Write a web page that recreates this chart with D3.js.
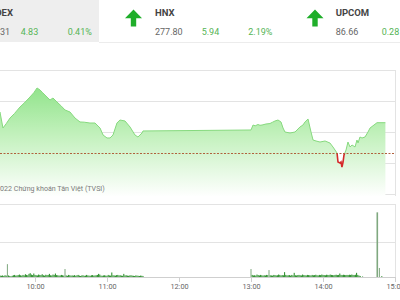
<!DOCTYPE html>
<html><head><meta charset="utf-8">
<script src="https://cdn.jsdelivr.net/npm/d3@7"></script>
<style>
html,body{margin:0;padding:0;background:#fff;overflow:hidden}
svg{display:block;font-family:Roboto,"Liberation Sans",Arial,sans-serif}
</style></head><body>
<svg id="c" width="400" height="300"></svg>
<script>
// ---------- data ----------
const indexNames = ["VNINDEX", "HNX", "UPCOM"];
const indexValues = ["1,178.31", "277.80", "86.66"];
const indexChanges = ["4.83", "5.94", "0.28"];
const indexPercents = ["0.41%", "2.19%", "0.28%"];

const refPrice = 271.86;
const priceTicks = [264, 270, 276, 282, 288];
// minutes since 09:00
const priceMinutes = [15,20,26,30.8,33.3,36,39.2,43,47.5,51,55.8,59,61.7,64.2,66,68.3,72.5,75,78.3,82,85,89.2,93.3,97.5,101,105.8,110,114.2,116.7,120,122.5,125,128.3,130.8,135,139.2,143.3,145.8,149.2,150,
  240,241.7,243.5,245.8,247.5,249.2,252.5,255.8,258,260,262.5,265,266.7,268.3,272.5,276.7,280.8,283.3,285,287.5,290,291.7,294.2,297.5,301.7,305.8,308.3,311.7,312.5,314.2,315,315.8,316.7,317.5,319.2,320.8,322.5,324.2,326.7,328.3,329.2,330.8,332.5,335,337.5,339.2,345,352];
const priceValues = [276.5,277.5,278.0,279.87,276.77,277.6,278.71,279.6,280.84,281.6,282.77,283.6,284.52,284.13,283.7,283.16,282.19,282.58,281.81,281.0,280.26,279.87,278.71,277.94,277.9,277.74,277.74,276.77,275.42,274.84,274.84,275.42,277.74,278.32,278.13,276.97,275.42,275.03,275.81,276.2,
  276.39,277.35,277.2,277.45,277.3,277.35,277.55,277.64,277.9,278.13,278.32,277.94,276.77,276.0,275.81,276.0,276.97,277.35,277.94,278.52,276.0,274.45,274.26,274.06,274.26,273.87,273.1,271.94,270.19,270.0,270.19,269.23,270.19,271.55,272.52,274.06,273.1,273.48,273.1,274.45,273.87,275.03,274.84,275.03,276.0,276.77,277.8,277.8];

// volume (thousand shares), one bar per minute
const morningStart = 31;   // 09:31
const morningVolume = [40,35,45,30,50,40,370,45,30,20,
  35,50,60,40,45,55,70,50,40,60,
  45,80,60,50,90,110,70,55,100,60,
  50,45,70,60,55,80,50,40,65,55,
  60,90,50,45,70,60,100,55,50,40,
  45,60,50,40,230,45,35,60,50,40,
  45,40,55,35,50,60,40,30,45,50,
  35,40,60,45,40,35,50,55,40,45,
  50,60,90,70,40,35,45,50,40,35,
  60,45,40,130,50,45,40,55,60,45,
  50,40,35,90,45,50,40,35,45,50,
  40,35,30,45,40,35,30,40,35,30];
const afternoonStart = 240; // 13:00
const afternoonVolume = [230,60,45,50,40,70,55,45,60,50,
  40,50,45,60,55,200,50,45,40,60,
  55,45,50,70,60,45,55,50,140,60,
  45,50,55,40,60,45,120,50,45,55,
  60,50,45,70,55,50,45,60,55,50,
  45,60,50,55,65,50,45,60,55,70,
  60,55,50,65,60,55,70,60,55,50,
  60,65,55,60,100,60,55,65,60,55,
  60,55,65,60,70,60,55,65,120,60,
  40,30];
const atcMinutes = [333, 345, 347, 349];
const atcVolume = [15, 1860, 260, 25];
const volumeTicks = [0, 1000, 2000];

const timeTicks = [60, 120, 180, 240, 300, 360];
const timeLabels = ["10:00", "11:00", "12:00", "13:00", "14:00", "15:00"];
const captionHidden = "©2";
const captionShown = "022 Chứng khoán Tân Việt (TVSI)";

// ---------- build ----------
const svg = d3.select("#c");
const W = 400;

// header
svg.append("rect").attr("x", 0).attr("y", 0).attr("width", 99).attr("height", 42).attr("fill", "#eeeeee");
svg.append("line").attr("x1", 99).attr("x2", W).attr("y1", 42.5).attr("y2", 42.5).attr("stroke", "#ececec");

const hdr = [
  {nameX: 13, anchor: "end", valX: 10, valAnchor: "end", chgX: 20.7, pctX: 67.7, arrow: null},
  {nameX: 155, anchor: "start", valX: 155, valAnchor: "start", chgX: 201.7, pctX: 248.3, arrow: 133.5},
  {nameX: 335.7, anchor: "start", valX: 335.7, valAnchor: "start", chgX: 381.7, pctX: 428, arrow: 315}
];
hdr.forEach((h, i) => {
  svg.append("text").attr("x", h.nameX).attr("y", 15.6).attr("text-anchor", h.anchor)
    .attr("font-size", 9.5).attr("font-weight", "bold").attr("fill", "#444").text(indexNames[i]);
  svg.append("text").attr("x", h.valX).attr("y", 34.5).attr("text-anchor", h.valAnchor)
    .attr("font-size", 9).attr("fill", "#666").text(indexValues[i]);
  svg.append("text").attr("x", h.chgX).attr("y", 34.5)
    .attr("font-size", 9).attr("fill", "#55b455").text(indexChanges[i]);
  svg.append("text").attr("x", h.pctX).attr("y", 34.5)
    .attr("font-size", 9).attr("fill", "#55b455").text(indexPercents[i]);
  if (h.arrow !== null) {
    const c = h.arrow;
    svg.append("path")
      .attr("d", `M${c},9.5 L${c + 8.5},18.3 L${c + 2.7},18.3 L${c + 2.7},26.5 L${c - 2.7},26.5 L${c - 2.7},18.3 L${c - 8.5},18.3 Z`)
      .attr("fill", "#1fae2a");
  }
});

// scales
const x = d3.scaleLinear().domain([0, 360]).range([-37, 395]);
const y = d3.scaleLinear().domain([264, 288]).range([194, 70]);
const yv = d3.scaleLinear().domain([0, 2100]).range([277, 204]);

// price panel grid
const gGrid = svg.append("g");
priceTicks.forEach(t => {
  gGrid.append("line").attr("x1", 0).attr("x2", 395).attr("y1", Math.round(y(t)) + 0.5).attr("y2", Math.round(y(t)) + 0.5)
    .attr("stroke", "#e3e3e3");
});
svg.append("line").attr("x1", 395.5).attr("x2", 395.5).attr("y1", 70).attr("y2", 196).attr("stroke", "#e3e3e3");

// gradient
const defs = svg.append("defs");
const grad = defs.append("linearGradient").attr("id", "g1").attr("gradientUnits", "userSpaceOnUse")
  .attr("x1", 0).attr("x2", 0).attr("y1", 85).attr("y2", 197);
grad.append("stop").attr("offset", 0).attr("stop-color", "#8fe389");
grad.append("stop").attr("offset", 0.45).attr("stop-color", "#c3f1bd");
grad.append("stop").attr("offset", 1).attr("stop-color", "#ffffff");
defs.append("clipPath").attr("id", "above").append("rect").attr("x", -50).attr("y", 0).attr("width", 500).attr("height", y(refPrice));
defs.append("clipPath").attr("id", "below").append("rect").attr("x", -50).attr("y", y(refPrice)).attr("width", 500).attr("height", 200);

const pts = priceMinutes.map((m, i) => [m, priceValues[i]]);
const area = d3.area().x(d => x(d[0])).y0(196).y1(d => y(d[1]));
const line = d3.line().x(d => x(d[0])).y(d => y(d[1]));

svg.append("path").datum(pts).attr("d", area).attr("fill", "url(#g1)");
svg.append("path").datum(pts).attr("d", line).attr("fill", "none").attr("stroke", "#86d97e").attr("stroke-width", 1).attr("clip-path", "url(#above)");
svg.append("path").datum(pts).attr("d", line).attr("fill", "none").attr("stroke", "#d42a2a").attr("stroke-width", 1.6).attr("clip-path", "url(#below)");

// reference line
svg.append("line").attr("x1", 0).attr("x2", 395).attr("y1", Math.round(y(refPrice)) + 0.5).attr("y2", Math.round(y(refPrice)) + 0.5)
  .attr("stroke", "#b0603c").attr("stroke-dasharray", "2,1.5").attr("stroke-width", 1);

// caption: sized so the visible part spans 0..105, "©2" falls off the left edge
const capT = svg.append("text").attr("y", 190.5).attr("font-size", 8).attr("fill", "#7a7a7a");
const tmpA = capT.append("tspan").text(captionHidden);
const wA = tmpA.node().getComputedTextLength();
const tmpB = capT.append("tspan").text(captionShown);
const wB = tmpB.node().getComputedTextLength();
const fs = 8 * 105 / wB;
capT.attr("font-size", fs).attr("x", -wA * fs / 8);

// volume panel
volumeTicks.forEach(t => {
  if (t === 0) return;
  const yy = t === 2000 ? 204.5 : Math.round(yv(t)) + 0.5;
  svg.append("line").attr("x1", 0).attr("x2", 395).attr("y1", yy).attr("y2", yy).attr("stroke", "#e3e3e3");
});
svg.append("line").attr("x1", 395.5).attr("x2", 395.5).attr("y1", 204).attr("y2", 277).attr("stroke", "#e3e3e3");

const vol = [];
morningVolume.forEach((v, i) => vol.push([morningStart + i, v]));
afternoonVolume.forEach((v, i) => vol.push([afternoonStart + i, v]));
atcMinutes.forEach((m, i) => vol.push([m, atcVolume[i]]));

svg.append("g").selectAll("rect").data(vol).join("rect")
  .attr("x", d => x(d[0]) - 0.5)
  .attr("width", d => d[1] > 1000 ? 1.6 : 1)
  .attr("y", d => yv(d[1]))
  .attr("height", d => 277 - yv(d[1]))
  .attr("fill", d => d[1] >= 150 ? "#7fa87f" : "#238a23");

// time axis
const axis = d3.axisBottom(x).tickValues(timeTicks).tickFormat((d, i) => timeLabels[i]).tickSize(5).tickSizeOuter(0);
const ga = svg.append("g").attr("transform", "translate(0,277)").call(axis);
ga.select(".domain").attr("stroke", "#cfcfcf");
ga.selectAll(".tick line").attr("stroke", "#cfcfcf");
ga.selectAll(".tick text").attr("font-size", 7.3).attr("fill", "#666").attr("dy", 0).attr("y", 12.3)
  .attr("font-family", "Roboto, 'Liberation Sans', Arial, sans-serif");
</script>
</body></html>
